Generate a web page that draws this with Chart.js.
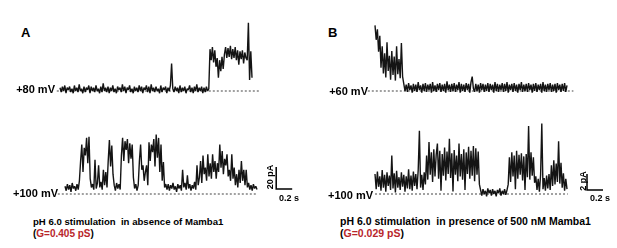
<!DOCTYPE html>
<html>
<head>
<meta charset="utf-8">
<script src="https://cdn.jsdelivr.net/npm/chart.js@4/dist/chart.umd.min.js"></script>
<style>
  html, body { margin:0; padding:0; background:#fff; }
  #wrap { position:relative; width:617px; height:248px; overflow:hidden; font-family: Arial, "Liberation Sans", sans-serif; color:#000; }
  canvas { position:absolute; }
  .t { position:absolute; white-space:pre; line-height:1; font-weight:bold; }
  .red { color:#b8262b; }
</style>
</head>
<body>
<div id="wrap">
  <canvas id="cA80" width="220" height="95" style="left:50px;top:10px"></canvas>
  <canvas id="cA100" width="250" height="80" style="left:50px;top:125px"></canvas>
  <canvas id="cB60" width="220" height="95" style="left:360px;top:10px"></canvas>
  <canvas id="cB100" width="255" height="87" style="left:360px;top:118px"></canvas>

  <div class="t" style="left:21px;top:26px;font-size:13px">A</div>
  <div class="t" style="left:328px;top:26px;font-size:13px">B</div>

  <div class="t" style="right:562px;top:84px;font-size:11px">+80 mV</div>
  <div class="t" style="right:559px;top:188px;font-size:11px">+100 mV</div>
  <div class="t" style="right:249px;top:86px;font-size:11px">+60 mV</div>
  <div class="t" style="right:244px;top:190px;font-size:11px">+100 mV</div>

  <div class="t" style="left:270px;top:177px;font-size:9px;transform:translate(-50%,-50%) rotate(-90deg)">20 pA</div>
  <div class="t" style="left:279px;top:194px;font-size:9px">0.2 s</div>
  <div class="t" style="left:583px;top:181px;font-size:9px;transform:translate(-50%,-50%) rotate(-90deg)">2 pA</div>
  <div class="t" style="left:590px;top:194px;font-size:9px">0.2 s</div>

  <div class="t" style="left:33px;top:217px;font-size:9.6px">pH 6.0 stimulation  in absence of Mamba1</div>
  <div class="t" style="left:33px;top:229px;font-size:10px">(<span class="red">G=0.405 pS</span>)</div>
  <div class="t" style="left:340px;top:216px;font-size:10.5px">pH 6.0 stimulation  in presence of 500 nM Mamba1</div>
  <div class="t" style="left:340px;top:228px;font-size:10.5px">(<span class="red">G=0.029 pS</span>)</div>
</div>
<script>
// ---- data (current in pA, sampled every timeStep seconds) ----
const timeStep = 0.015;

// Panel A, +80 mV (pA)
const traceA80 = [
  3,-1,4,0,5,-2,3,1,4,-1,
  2,-2,5,0,3,-1,6,0,2,-2,
  4,-1,3,1,5,-2,4,0,3,-1,
  5,0,2,-2,4,-1,7,0,3,-1,
  4,-2,3,0,5,-1,2,-2,4,1,
  3,-1,6,0,4,-2,3,1,5,-1,
  2,-2,4,0,3,-1,5,0,4,-2,
  3,1,5,-1,4,-2,6,0,3,-1,
  4,0,2,-2,5,-1,3,1,4,-2,
  3,0,5,25,2,-1,4,0,3,-2,
  5,-1,3,0,4,-2,2,1,5,-1,
  3,-2,4,0,6,-1,3,0,4,-2,
  3,-1,4,0,2,
  38,28,40,26,37,
  22,30,12,28,18,31,20,33,
  40,30,39,31,41,29,38,30,40,28,37,24,36,29,37,25,35,30,
  28,62,10,36,12
];

// Panel A, +100 mV (pA)
const traceA100 = [
  7,3,9,4,8,2,10,5,7,3,9,4,12,
  30,45,20,42,35,51,28,52,
  14,6,9,4,
  31,5,10,26,6,11,4,22,8,20,6,
  30,49,25,44,18,
  8,3,10,5,9,4,
  35,51,30,48,40,50,28,46,32,45,
  15,5,9,3,8,
  30,45,22,26,12,
  20,26,8,47,30,45,
  38,50,25,54,33,51,20,45,
  12,29,6,9,
  4,9,3,8,5,10,4,7,2,9,5,8,3,
  22,6,10,4,17,5,9,3,8,5,11,4,
  26,8,15,30,10,35,18,24,12,36,16,28,14,36,20,30,
  14,28,20,45,24,39,18,32,26,36,16,22,
  12,36,14,24,8,18,6,22,10,30,12,22,8,
  22,6,10,4,8,3,9,5,7,4
];

// Panel B, +60 mV (pA)
const traceB60 = [
  8.2,6.4,7.7,4.9,6.9,
  2.9,5.6,2.2,4.7,1.7,6.1,2.5,4.4,1.4,5.0,2.0,4.3,1.3,5.6,2.1,4.0,1.6,6.0,
  1.8,
  0.9,0.0,0.8,-0.1,1.0,0.1,0.7,-0.2,0.9,0.0,
  0.8,-0.1,1.1,0.1,0.7,-0.2,0.9,0.0,1.0,-0.1,
  0.8,0.1,0.9,-0.2,1.1,0.0,0.7,-0.1,0.9,0.1,
  1.0,-0.1,0.8,0.0,0.9,-0.2,1.2,0.1,0.8,-0.1,
  0.9,0.0,1.0,-0.1,0.8,0.1,1.1,-0.2,0.9,0.0,
  0.8,-0.1,1.0,0.1,0.9,-0.2,1.1,1.8,0.3,-0.1,
  0.9,0.0,0.8,-0.2,1.0,0.1,0.9,-0.1,0.8,0.0,
  1.0,-0.1,0.9,0.1,0.8,-0.2,1.1,0.0,0.9,-0.1,
  0.8,0.1,1.0,-0.1,0.9,0.0,1.1,-0.2,0.8,0.1,
  0.9,-0.1,1.0,0.0,0.8,-0.2,0.9,0.1,1.1,-0.1,
  0.8,0.0,0.9,-0.1,1.0,0.1,0.8,-0.2,0.9,0.0,
  1.0,-0.1,0.8,0.1,0.9,-0.2,1.1,0.0,0.8,-0.1,
  0.9,0.1,1.0,-0.1,0.8,0.0,0.9,-0.2,1.0,0.1,
  0.8,-0.1,0.9,0.0,1.0,-0.1,0.7
];

// Panel B, +100 mV (pA)
const traceB100 = [
  2.5,0.6,2.8,0.9,2.2,0.4,3.0,0.8,2.4,0.3,
  2.7,1.0,2.3,0.5,4.8,0.7,2.6,0.2,2.9,0.8,
  2.1,0.5,2.7,0.9,2.4,0.3,2.2,0.7,3.1,0.6,
  2.3,0.4,2.8,1.0,2.5,0.6,3.0,7.9,0.8,2.4,
  0.5,2.7,1.2,
  4.8,1.8,6.5,2.4,5.2,1.5,5.6,2.2,4.9,6.3,
  1.9,5.4,0.4,5.0,2.3,5.8,1.7,5.3,2.5,6.9,
  2.0,5.1,0.3,5.5,2.4,4.8,1.6,6.3,2.2,5.0,
  1.8,5.6,0.5,5.2,2.5,5.9,1.9,5.4,2.3,6.0,
  1.6,5.7,2.4,5.3,1.2,
  0.5,-0.2,0.6,0.0,0.4,-0.3,0.7,0.1,0.5,-0.2,
  0.6,0.0,0.4,-0.3,0.5,0.1,0.7,-0.2,0.4,0.0,
  0.6,-0.1,0.5,1.2,
  4.6,1.5,5.2,2.2,4.8,0.6,5.4,1.9,4.9,2.4,
  5.1,1.7,4.7,0.5,5.0,2.1,8.5,1.8,5.2,2.3,
  4.6,1.4,
  2.2,0.5,1.9,0.3,2.4,8.8,0.6,2.0,0.4,2.3,
  0.7,2.5,0.5,3.6,1.0,4.2,1.2,3.8,1.5,6.6,
  1.3,3.9,0.8,2.6,0.4,1.9,0.6
];

// scale bars (pA, s)
const scaleBarA = [20, 0.2];
const scaleBarB = [2, 0.2];

// ---- layout (page pixels) ----
const PX_PER_SEC = 80;
const layouts = {
  cA80:  { left:50,  top:10,  w:220, h:95, x0:60,  y0:91,  pxPerUnit:1.1, dash:[-0.04, 2.5] },
  cA100: { left:50,  top:125, w:250, h:80, x0:65,  y0:194, pxPerUnit:1.1, dash:[-0.09, 2.41], bar:{t:2.64, y:4.5, v:scaleBarA} },
  cB60:  { left:360, top:10,  w:220, h:95, x0:375, y0:91,  pxPerUnit:8,   dash:[-0.09, 2.48] },
  cB100: { left:360, top:118, w:255, h:87, x0:375, y0:194, pxPerUnit:8,   dash:[0, 2.41], bar:{t:2.65, y:0.5, v:scaleBarB} }
};

function drawPanel(id, values) {
  const L = layouts[id];
  const xmin = (L.left - L.x0) / PX_PER_SEC;
  const xmax = (L.left + L.w - L.x0) / PX_PER_SEC;
  const ymax = (L.y0 - L.top) / L.pxPerUnit;
  const ymin = -(L.top + L.h - L.y0) / L.pxPerUnit;
  const datasets = [
    { data: values.map((v, i) => ({ x: i * timeStep, y: v })),
      borderColor: 'rgba(0,0,0,0.92)', borderWidth: 1.4, pointRadius: 0, tension: 0, borderJoinStyle: 'bevel' },
    { data: [{ x: L.dash[0], y: 0 }, { x: L.dash[1], y: 0 }],
      borderColor: '#444', borderWidth: 1, borderDash: [2, 2], pointRadius: 0 }
  ];
  if (L.bar) {
    const [amp, dur] = L.bar.v;
    datasets.push({ data: [{ x: L.bar.t, y: L.bar.y + amp }, { x: L.bar.t, y: L.bar.y }, { x: L.bar.t + dur, y: L.bar.y }],
      borderColor: '#000', borderWidth: 1.5, pointRadius: 0, borderJoinStyle: 'miter' });
  }
  new Chart(document.getElementById(id), {
    type: 'line',
    data: { datasets },
    options: {
      responsive: false, animation: false, devicePixelRatio: 1, events: [],
      layout: { padding: 0 },
      plugins: { legend: { display: false }, tooltip: { enabled: false } },
      scales: {
        x: { type: 'linear', min: xmin, max: xmax, display: false },
        y: { type: 'linear', min: ymin, max: ymax, display: false }
      }
    }
  });
}

drawPanel('cA80', traceA80);
drawPanel('cA100', traceA100);
drawPanel('cB60', traceB60);
drawPanel('cB100', traceB100);
</script>
</body>
</html>
